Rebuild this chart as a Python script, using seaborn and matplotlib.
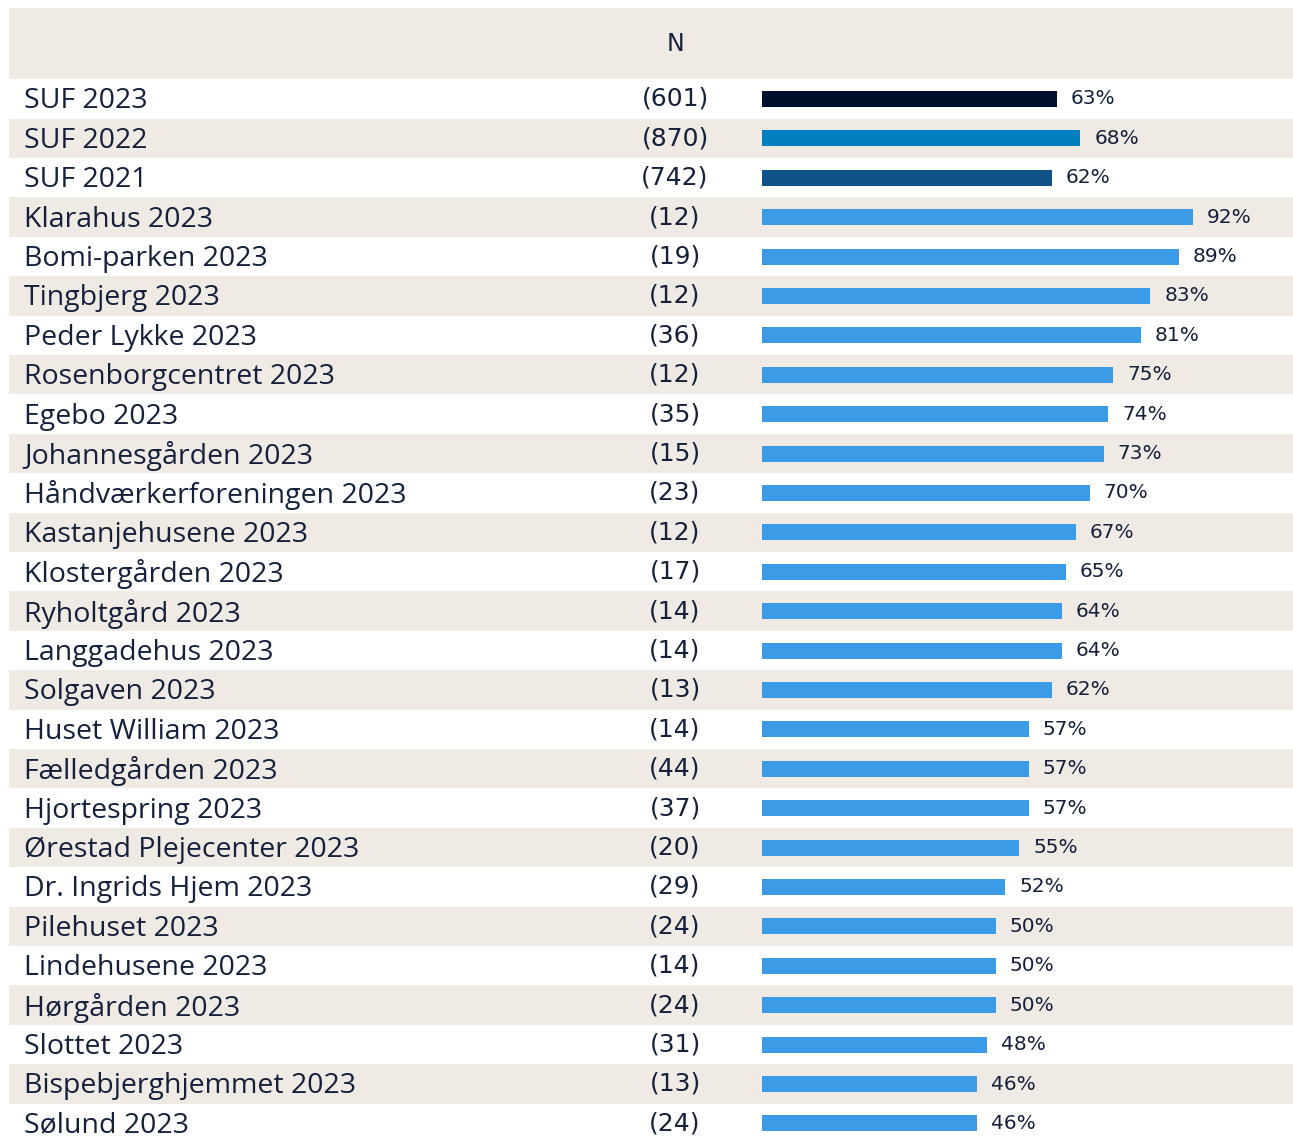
import numpy as np
import pandas as pd
import matplotlib
matplotlib.use("Agg")
import matplotlib.pyplot as plt
import matplotlib.transforms as mtransforms
import seaborn as sns

names = ["SUF 2023", "SUF 2022", "SUF 2021", "Klarahus 2023", "Bomi-parken 2023",
         "Tingbjerg 2023", "Peder Lykke 2023", "Rosenborgcentret 2023", "Egebo 2023",
         "Johannesgården 2023", "Håndværkerforeningen 2023", "Kastanjehusene 2023",
         "Klostergården 2023", "Ryholtgård 2023", "Langgadehus 2023", "Solgaven 2023",
         "Huset William 2023", "Fælledgården 2023", "Hjortespring 2023",
         "Ørestad Plejecenter 2023", "Dr. Ingrids Hjem 2023", "Pilehuset 2023",
         "Lindehusene 2023", "Hørgården 2023", "Slottet 2023",
         "Bispebjerghjemmet 2023", "Sølund 2023"]
n_values = [601, 870, 742, 12, 19, 12, 36, 12, 35, 15, 23, 12, 17, 14, 14, 13,
            14, 44, 37, 20, 29, 24, 14, 24, 31, 13, 24]
pct = [63, 68, 62, 92, 89, 83, 81, 75, 74, 73, 70, 67, 65, 64, 64, 62,
       57, 57, 57, 55, 52, 50, 50, 50, 48, 46, 46]

colors = ["#000E2E", "#0080C1", "#0F5189"] + ["#3B9BE6"] * (len(names) - 3)
beige = "#EFEAE3"
txt = "#15203D"

df = pd.DataFrame({"name": names, "n": n_values, "pct": pct})

sns.set_style("white")
plt.rcParams["font.family"] = ["Open Sans", "DejaVu Sans"]

W, H = 1293, 1136
fig = plt.figure(figsize=(W / 100, H / 100), dpi=100)
ax = fig.add_axes([0, 0, 1, 1])

sns.barplot(data=df, x="pct", y="name", hue="name", palette=colors, orient="h",
            width=0.41, legend=False, ax=ax, zorder=2, saturation=1, linewidth=0)

# scale: 0% at x=762px, 4.68 px per percent; rows 39.4 px, first row centred at 99px
px_per = 4.68
ax.set_xlim(-762 / px_per, (W - 762) / px_per)
ax.set_ylim((H - 99) / 39.4, -99 / 39.4)

# backgrounds
trans = mtransforms.blended_transform_factory(ax.transAxes, ax.transData)
ax.add_patch(plt.Rectangle((9 / W, -2.31), 1 - 9 / W, 1.81, transform=trans,
                           color=beige, zorder=0, lw=0))
for i in range(len(names)):
    if i % 2 == 1:
        ax.add_patch(plt.Rectangle((9 / W, i - 0.5), 1 - 9 / W, 1, transform=trans,
                                   color=beige, zorder=0, lw=0))

for c in ax.containers:
    ax.bar_label(c, labels=[f"{int(v)}%" for v in c.datavalues], padding=10,
                 fontsize=14.5, color=txt, family="DejaVu Sans")

for i, (nm, nv) in enumerate(zip(names, n_values)):
    ax.text(24 / W, i + 0.06, nm, transform=trans, ha="left", va="center",
            fontsize=20.5, color=txt)
    ax.text(675 / W, i, f"({nv})", transform=trans, ha="center", va="center",
            fontsize=18, color=txt, family="DejaVu Sans")

ax.text(675 / W, -1.4, "N", transform=trans, ha="center", va="center",
        fontsize=17, color=txt, family="DejaVu Sans")

ax.set_axis_off()
fig.savefig("out.png", dpi=100, facecolor="white")
